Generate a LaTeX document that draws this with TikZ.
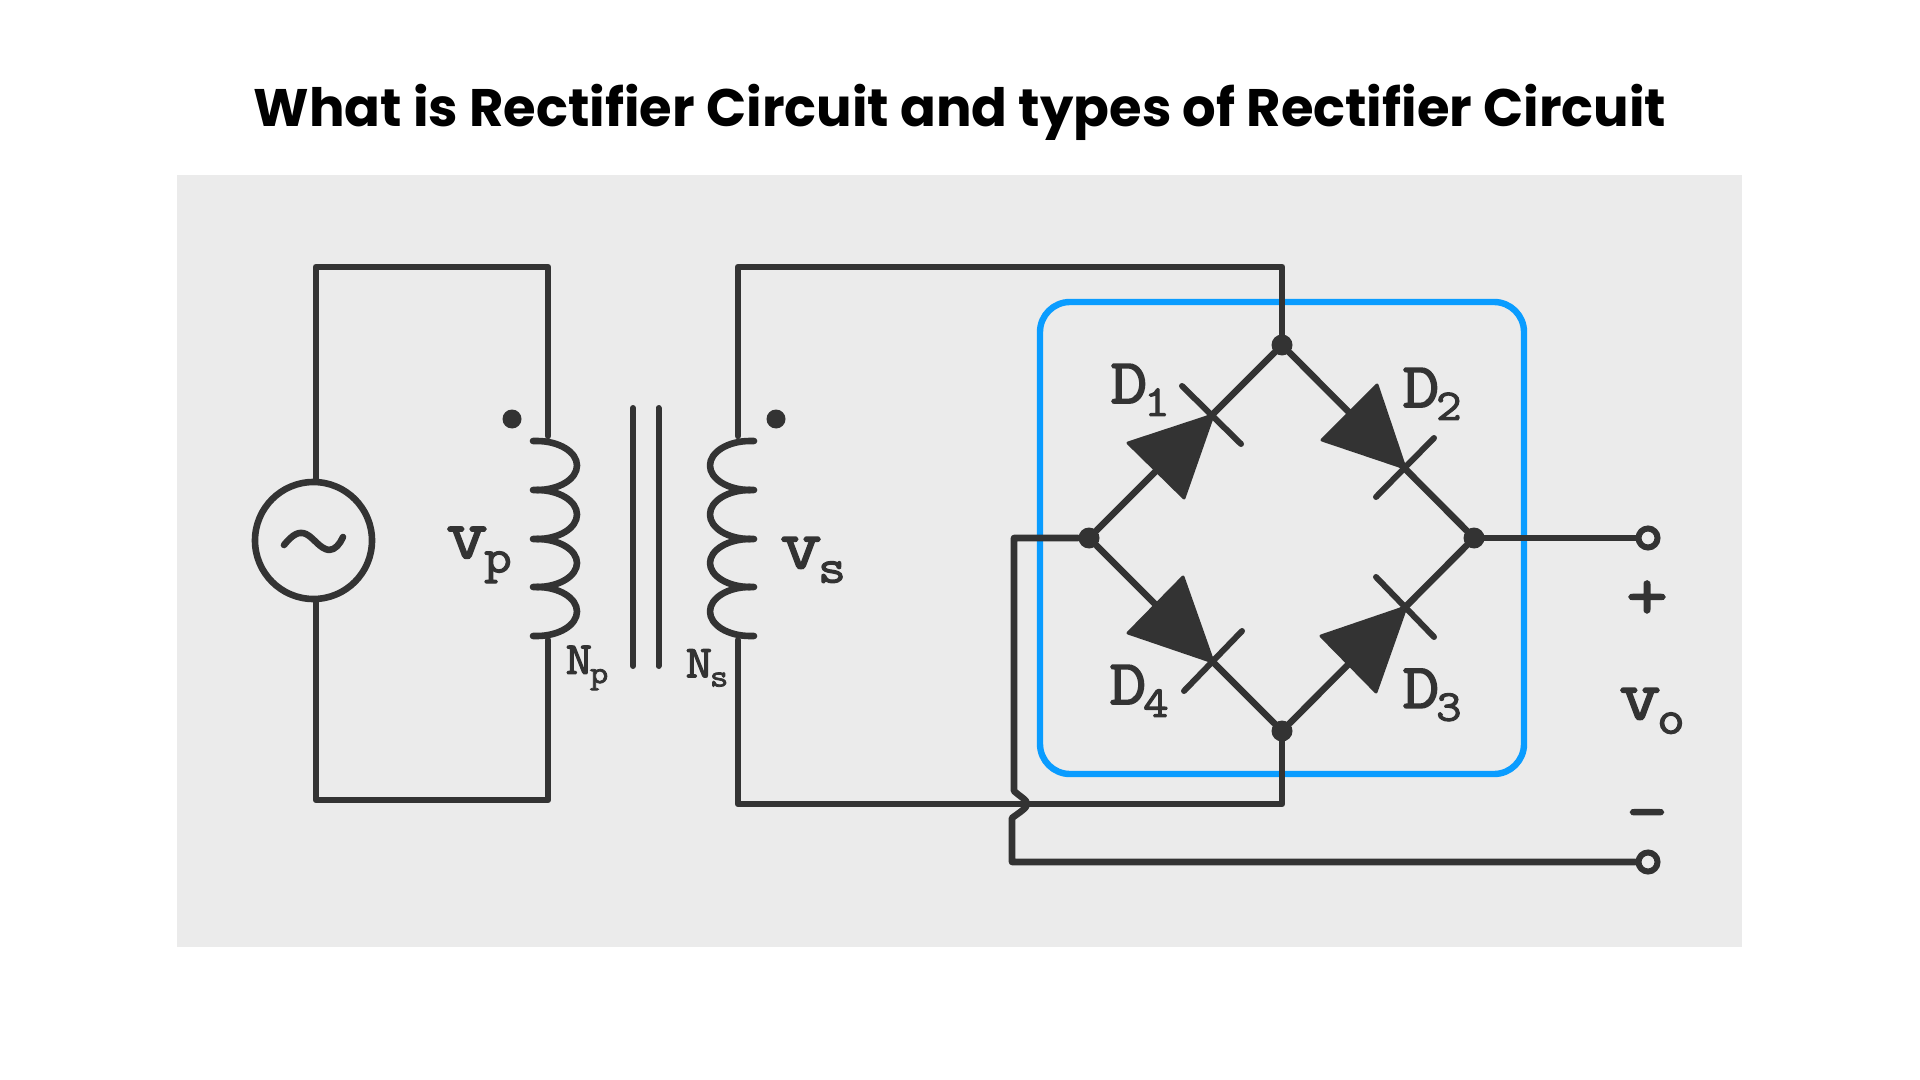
\documentclass[tikz,border=0pt]{standalone}
\usepackage{fontspec}
\setmainfont{Poppins}
\newfontfamily\labfont[FakeBold=2.4,FakeStretch=1.12]{Latin Modern Mono}
\usetikzlibrary{positioning}
\definecolor{wire}{HTML}{333333}
\definecolor{panel}{HTML}{EBEBEB}
\definecolor{bridge}{HTML}{0A9CFF}
\newcommand{\lab}[4]{\fontsize{#3}{#3}\selectfont\labfont #1\kern-0.05em\raisebox{-0.2em}{\fontsize{#4}{#4}\selectfont\labfont #2}}
\tikzstyle{wires}=[wire, line width=3.3pt, line join=round, line cap=round]
\tikzstyle{bar}=[wire, line width=3pt, line cap=round]
\tikzstyle{diode}=[wire, fill=wire, line width=1.5pt, line join=round]
\tikzstyle{junction}=[circle, fill=wire, inner sep=0pt, minimum size=10.5pt]
\tikzstyle{terminal}=[circle, draw=wire, fill=panel, line width=3pt, inner sep=0pt, minimum size=9.5pt]
\tikzstyle{source}=[circle, draw=wire, line width=3.3pt, inner sep=0pt, minimum size=58.5pt]
\tikzstyle{label}=[wire, inner sep=0pt]

\begin{document}
\begin{tikzpicture}[x=0.5pt, y=-0.5pt]
\useasboundingbox (0,0) rectangle (1920,1080);
    \fill[white] (0,0) rectangle (1920,1080);
    \node[anchor=center, inner sep=0pt] (title) at (960,112) {\fontsize{26.4}{30}\selectfont\bfseries What is Rectifier Circuit and types of Rectifier Circuit};
    \fill[panel] (177,175.5) rectangle (1742,947);
% Bridge outline
    \draw[bridge, line width=3.2pt, rounded corners=15pt] (1040,302) rectangle (1524,774);
% Junctions and corners
    \node[junction] (top) at (1282,345) {};
    \node[junction] (left) at (1089,538) {};
    \node[junction] (right) at (1474,538) {};
    \node[junction] (bottom) at (1282,731) {};
    \node[terminal] (pos) at (1648,538) {};
    \node[terminal] (neg) at (1648,862) {};
    \node[source] (src) at (313.5,540.5) {};
    \coordinate (ptl) at (316,267);
    \coordinate (ptr) at (548,267);
    \coordinate (pbl) at (316,800);
    \coordinate (pbr) at (548,800);
    \coordinate (ptop) at (548,436);
    \coordinate (pbot) at (548,640);
    \coordinate (stl) at (738,267);
    \coordinate (str) at (1282,267);
    \coordinate (sbl) at (738,804);
    \coordinate (sbr) at (1282,804);
    \coordinate (stop) at (738,436);
    \coordinate (sbot) at (738,640);
    \coordinate (ret) at (1014,538);
    \coordinate (hopa) at (1014,791);
    \coordinate (hopb) at (1012,818);
    \coordinate (retb) at (1012,862);
% Primary side
    \draw[wires] (src.north -| ptl) -- (ptl) -- (ptr) -- (ptop);
    \draw[wires] (src.south -| ptl) -- (pbl) -- (pbr) -- (pbot);
    \draw[wires] (284,545) .. controls (293,534) and (299,531) .. (306,534) .. controls (314,538) and (320,549) .. (329,550) .. controls (335,550) and (340,544) .. (343,537);
% Primary coil
    \draw[wires] (533,441) -- (537,441) .. controls (559,441) and (577,452) .. (577,465.5) .. controls (577,479) and (559,490) .. (537,490) -- (533,490);
    \draw[wires] (537,490) .. controls (559,490) and (577,501) .. (577,514.5) .. controls (577,528) and (559,539) .. (537,539) -- (533,539);
    \draw[wires] (537,539) .. controls (559,539) and (577,550) .. (577,563) .. controls (577,576) and (559,587) .. (537,587) -- (533,587);
    \draw[wires] (537,587) .. controls (559,587) and (577,598) .. (577,611.5) .. controls (577,625) and (559,636) .. (537,636) -- (533,636);
    \fill[wire] (512,419) circle (9.5);
% Core
    \draw[bar] (633,408) -- (633,666);
    \draw[bar] (658.5,408) -- (658.5,666);
% Secondary coil
    \draw[wires] (754,441) -- (750,441) .. controls (728,441) and (710,452) .. (710,465.5) .. controls (710,479) and (728,490) .. (750,490) -- (754,490);
    \draw[wires] (750,490) .. controls (728,490) and (710,501) .. (710,514.5) .. controls (710,528) and (728,539) .. (750,539) -- (754,539);
    \draw[wires] (750,539) .. controls (728,539) and (710,550) .. (710,563) .. controls (710,576) and (728,587) .. (750,587) -- (754,587);
    \draw[wires] (750,587) .. controls (728,587) and (710,598) .. (710,611.5) .. controls (710,625) and (728,636) .. (750,636) -- (754,636);
    \fill[wire] (776,419) circle (9.5);
% Secondary side
    \draw[wires] (stop) -- (stl) -- (str) -- (top);
    \draw[wires] (sbot) -- (sbl) -- (sbr) -- (bottom);
% Bridge arms
    \draw[wires] (left) -- (top);
    \draw[wires] (top) -- (right);
    \draw[wires] (left) -- (bottom);
    \draw[wires] (bottom) -- (right);
% Diodes
    \draw[diode] (1213,415) -- (1128,443) -- (1184,498) -- cycle;
    \draw[bar] (1182,386) -- (1241,444);
    \draw[diode] (1405,468) -- (1377,385) -- (1322,440) -- cycle;
    \draw[bar] (1434,438) -- (1376,497);
    \draw[diode] (1406,607) -- (1321,636) -- (1376,692) -- cycle;
    \draw[bar] (1376,577) -- (1434,637);
    \draw[diode] (1213,662) -- (1183,577) -- (1128,633) -- cycle;
    \draw[bar] (1242,631) -- (1184,691);
% Outputs
    \draw[wires] (right) -- (pos);
    \draw[wires] (left) -- (ret) -- (hopa) .. controls (1022,798) and (1027,800) .. (1027,804) .. controls (1027,808) and (1020,812) .. (hopb) -- (retb) -- (neg);
% Labels
    \node[label] (d1) at (1140,390) {\lab{D}{1}{32}{22}};
    \node[label] (d2) at (1432,394) {\lab{D}{2}{32}{22}};
    \node[label] (d3) at (1432,695) {\lab{D}{3}{32}{22}};
    \node[label] (d4) at (1139,691) {\lab{D}{4}{32}{22}};
    \node[label] (vp) at (479,555) {\lab{v}{p}{36}{24}};
    \node[label] (vs) at (813,560) {\lab{v}{s}{36}{24}};
    \node[label] (vo) at (1652,711) {\lab{v}{o}{36}{24}};
    \node[label] (np) at (587,668) {\lab{N}{p}{23}{16}};
    \node[label] (ns) at (707,668) {\lab{N}{s}{23}{16}};
    \node[label] (plus) at (1647,600) {\fontsize{36}{36}\selectfont\labfont +};
    \node[label] (minus) at (1647,822) {\fontsize{36}{36}\selectfont\labfont -};
\end{tikzpicture}
\end{document}
